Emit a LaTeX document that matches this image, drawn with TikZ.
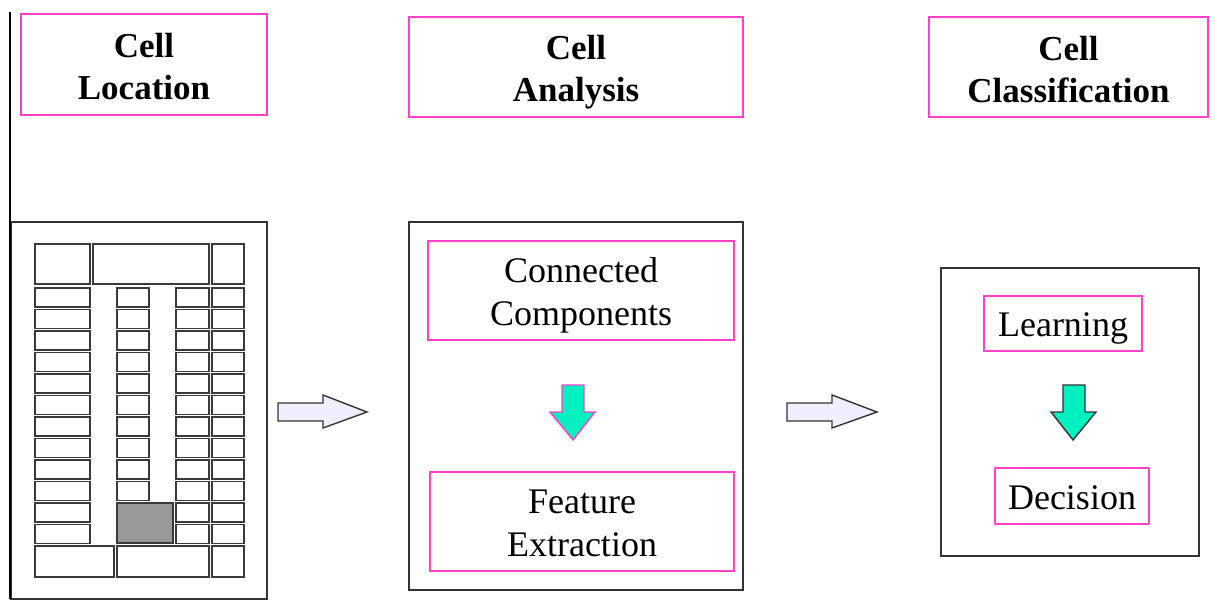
\documentclass[tikz,border=0pt]{standalone}
\usepackage{fontspec}
\setmainfont{Liberation Serif}
\definecolor{pinkline}{HTML}{FF40C8}
\definecolor{framegray}{HTML}{333333}
\definecolor{cellgray}{HTML}{3A3A3A}
\definecolor{shade}{HTML}{999999}
\definecolor{teal}{HTML}{00F0C0}
\definecolor{lavender}{HTML}{EEEEFF}
\begin{document}
\begin{tikzpicture}[x=1pt,y=-1pt,
  titlebox/.style={draw=pinkline, line width=1.6pt, inner sep=0pt},
  titletext/.style={inner sep=0pt, align=center,
    font=\fontsize{35}{42}\selectfont\bfseries},
  stepbox/.style={draw=pinkline, line width=1.6pt, inner sep=0pt},
  steptext/.style={inner sep=0pt, align=center,
    font=\fontsize{36}{43}\selectfont},
  panel/.style={draw=framegray, line width=1.6pt, inner sep=0pt},
  cell/.style={draw=cellgray, line width=1.5pt},
  flowarrow/.style={draw=framegray, line width=1.4pt, fill=lavender, line join=miter},
  downarrow/.style={fill=teal, line width=1.4pt, line join=miter}]
\useasboundingbox (0,0) rectangle (1215,601);

% stage titles
\node[titlebox, minimum width=246pt, minimum height=101pt] (loc) at (144,64.5) {};
\node[titletext] (loctext) at ([yshift=-2pt]loc.center) {Cell\\Location};
\node[titlebox, minimum width=334pt, minimum height=100pt] (ana) at (576,67) {};
\node[titletext] (anatext) at ([yshift=-5pt]ana.center) {Cell\\Analysis};
\node[titlebox, minimum width=279pt, minimum height=100pt] (cls) at (1068.5,67) {};
\node[titletext] (clstext) at ([yshift=-3pt]cls.center) {Cell\\Classification};

% stage panels
\node[panel, minimum width=256pt, minimum height=377pt] (locpanel) at (139,410.5) {};
\node[panel, minimum width=334pt, minimum height=368pt] (anapanel) at (576,406) {};
\node[panel, minimum width=258pt, minimum height=288pt] (clspanel) at (1070,412) {};

% left rule
\draw[black, line width=2pt] (10,12) -- (10,599);

% form layout inside the first panel
\foreach \xa/\xb in {35/90, 93/209, 212/244}
  \draw[cell] (\xa,244) rectangle (\xb,284);
\foreach \i in {0,...,11}{
  \pgfmathsetmacro{\ya}{288+\i*21.5}
  \pgfmathsetmacro{\yb}{\ya+19}
  \draw[cell] (35,\ya) rectangle (90,\yb);
  \draw[cell] (176,\ya) rectangle (209,\yb);
  \draw[cell] (212,\ya) rectangle (244,\yb);
}
\foreach \i in {0,...,9}{
  \pgfmathsetmacro{\ya}{288+\i*21.5}
  \pgfmathsetmacro{\yb}{\ya+19}
  \draw[cell] (117,\ya) rectangle (149,\yb);
}
\draw[cell, fill=shade] (117,503) rectangle (173,543);
\foreach \xa/\xb in {35/114, 117/209, 212/244}
  \draw[cell] (\xa,546) rectangle (\xb,577);

% analysis steps
\node[stepbox, minimum width=306pt, minimum height=99pt] (cc) at (581,290.5) {};
\node[steptext] (cctext) at ([yshift=-5pt]cc.center) {Connected\\Components};
\node[stepbox, minimum width=304pt, minimum height=99pt] (fe) at (582,521.5) {};
\node[steptext] (fetext) at ([yshift=-1.5pt]fe.center) {Feature\\Extraction};
\draw[downarrow, draw=pinkline] (562,385) -- (584,385) -- (584,412) -- (595,412)
  -- (573,440) -- (550,412) -- (562,412) -- cycle;

% classification steps
\node[stepbox, minimum width=158pt, minimum height=55pt] (learn) at (1063,323.5) {};
\node[steptext] (learntext) at ([yshift=-5pt]learn.center) {Learning};
\node[stepbox, minimum width=154pt, minimum height=56pt] (dec) at (1072,496) {};
\node[steptext] (dectext) at ([yshift=-2pt]dec.center) {Decision};
\draw[downarrow, draw=framegray] (1063,385) -- (1085,385) -- (1085,412) -- (1096,412)
  -- (1073,440) -- (1051,412) -- (1063,412) -- cycle;

% flow between stages
\draw[flowarrow] (278,403) -- (323,403) -- (323,395) -- (367,412) -- (323,428)
  -- (323,421) -- (278,421) -- cycle;
\draw[flowarrow] (787,403) -- (832,403) -- (832,395) -- (877,412) -- (832,428)
  -- (832,421) -- (787,421) -- cycle;
\end{tikzpicture}
\end{document}
